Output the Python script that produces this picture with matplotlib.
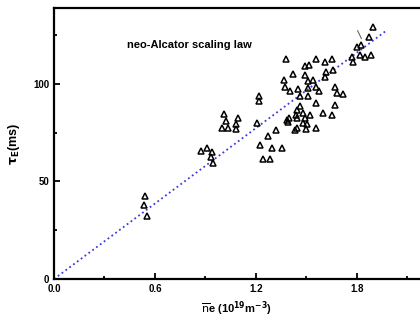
import matplotlib.pyplot as plt
from matplotlib.ticker import MultipleLocator

plt.rcParams['font.family'] = ['Liberation Sans', 'DejaVu Sans']
plt.rcParams['mathtext.default'] = 'bf'

# line averaged density (10^19 m^-3) and energy confinement time (ms)
ne = [0.540, 0.535, 0.553,
      0.873, 0.909, 0.939, 0.933, 0.945,
      1.010, 1.022, 0.998, 1.034, 1.093, 1.081, 1.081,
      1.218, 1.218, 1.206,
      1.319, 1.272, 1.224, 1.295, 1.355, 1.242, 1.283,
      1.378, 1.420, 1.367, 1.373, 1.491, 1.515, 1.557, 1.610, 1.652,
      1.491, 1.509, 1.539, 1.616, 1.658, 1.610,
      1.402, 1.450, 1.462, 1.509, 1.509, 1.557, 1.575, 1.670, 1.682, 1.717,
      1.557, 1.670, 1.462, 1.444, 1.438, 1.480, 1.521, 1.491, 1.444, 1.396,
      1.390, 1.598, 1.652, 1.503, 1.480, 1.497, 1.444, 1.432, 1.557, 1.384,
      1.895, 1.872, 1.800, 1.824, 1.771, 1.777, 1.818, 1.848, 1.884]
tau = [42.5, 37.9, 32.3,
       65.5, 67.1, 65.0, 62.5, 59.4,
       84.5, 80.9, 77.3, 77.3, 82.4, 79.4, 76.8,
       93.7, 91.1, 79.9,
       76.3, 73.2, 68.6, 67.1, 67.1, 61.4, 61.4,
       112.6, 105.0, 101.9, 98.3, 109.1, 109.6, 112.6, 111.1, 112.6,
       104.5, 101.4, 101.9, 106.0, 107.0, 103.4,
       96.3, 97.3, 93.7, 97.8, 93.7, 98.3, 96.3, 98.3, 95.2, 94.7,
       90.1, 89.1, 88.6, 86.5, 84.0, 85.0, 84.0, 82.4, 82.4, 82.4,
       80.4, 85.0, 84.0, 79.4, 79.9, 76.8, 77.3, 76.3, 77.3, 81.4,
       129.0, 123.9, 118.8, 119.8, 113.7, 111.1, 114.7, 113.7, 114.7]

# scaling law fit
fit_x = [0.0, 1.97]
fit_y = [0.0, 126.9]

fig = plt.figure(figsize=(4.2, 3.22), dpi=100)
ax = fig.add_axes([0.1286, 0.1335, 0.8714, 0.8416])

ax.plot(fit_x, fit_y, ':', color='#3a3ae0', lw=1.3, zorder=1)
ax.plot(ne, tau, '^', mfc='none', mec='black', ms=4.5, mew=1.1, zorder=2)
# little pointer next to the high density points
ax.annotate('', xy=(ne[73] + 0.01, tau[73] + 2), xytext=(-4.5, 9.5), textcoords='offset points',
            arrowprops=dict(arrowstyle='-', color='#555555', lw=0.7))

ax.text(0.37, 0.863, 'neo-Alcator scaling law', transform=ax.transAxes,
        ha='center', va='center', fontsize=8, fontweight='bold')

ax.set_xlim(0, 2.175)
ax.set_ylim(0, 138.8)
ax.xaxis.set_major_locator(MultipleLocator(0.6))
ax.xaxis.set_minor_locator(MultipleLocator(0.3))
ax.yaxis.set_major_locator(MultipleLocator(50))
ax.yaxis.set_minor_locator(MultipleLocator(25))
ax.set_xticks([0, 0.6, 1.2, 1.8])
ax.set_xticklabels(['0.0', '0.6', '1.2', '1.8'])
ax.tick_params(which='both', direction='in', width=1.3, labelsize=7)
ax.tick_params(which='major', length=4)
ax.tick_params(which='minor', length=2.5)
for lab in ax.get_xticklabels() + ax.get_yticklabels():
    lab.set_fontweight('bold')
for s in ['left', 'bottom', 'top']:
    ax.spines[s].set_linewidth(1.6)
ax.spines['right'].set_visible(False)

ax.set_xlabel(r'$\overline{\rm n}$e (10$^{19}$m$^{-3}$)', fontsize=8, fontweight='bold', labelpad=4)
ax.set_ylabel(r'$\tau_E$(ms)', fontsize=9, fontweight='bold', labelpad=8)

fig.savefig('out.png', dpi=100)
